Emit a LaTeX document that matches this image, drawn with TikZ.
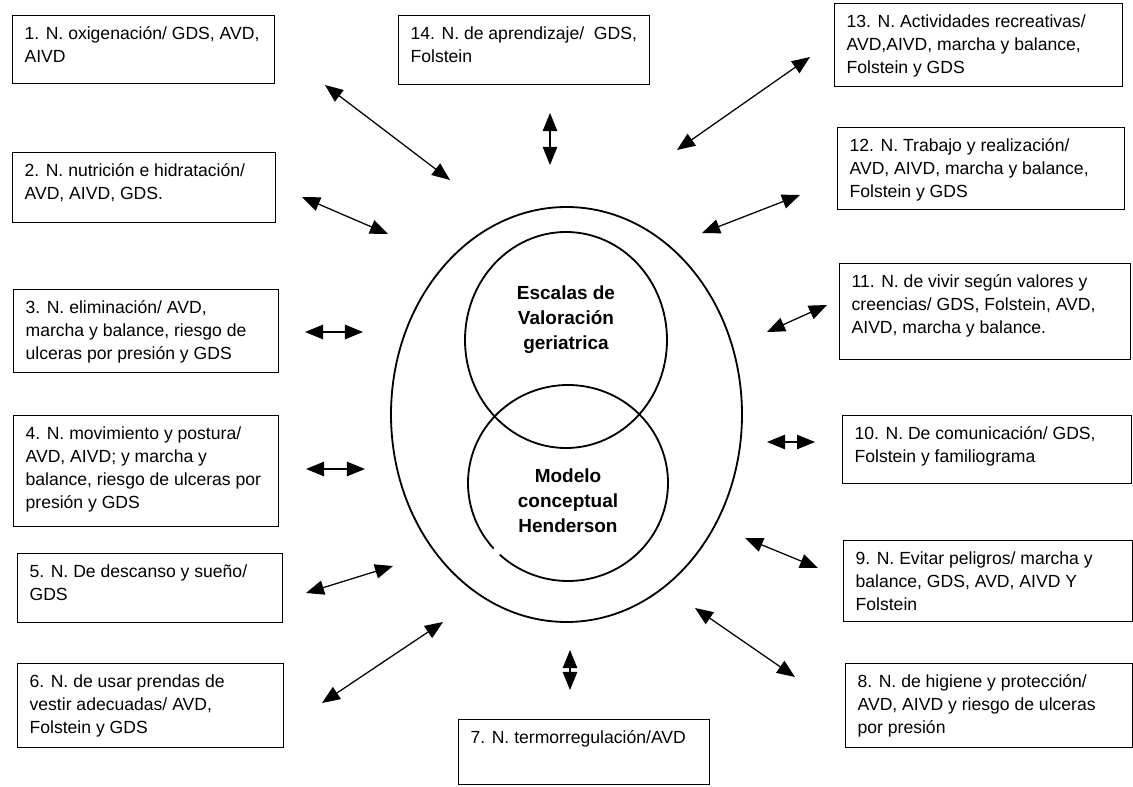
\documentclass[tikz,border=0pt]{standalone}
\usepackage{fontspec}
\setmainfont{Liberation Sans}
\usetikzlibrary{arrows.meta}
\newlength{\px}
\setlength{\px}{0.025cm}

\begin{document}
\begin{tikzpicture}[
x=0.025cm, y=-0.025cm,
need/.style 2 args={draw, line width=0.9pt, anchor=north west, inner xsep=12\px, inner ysep=11\px,
  font=\fontsize{12.5}{16.3}\selectfont,
  execute at begin node={\begin{minipage}[t][\dimexpr#2\px-22\px\relax][t]{\dimexpr#1\px-24\px\relax}\raggedright},
  execute at end node={\end{minipage}}},
link/.style={{Triangle[length=0.45cm, width=0.36cm]}-{Triangle[length=0.45cm, width=0.36cm]}, line width=0.9pt},
ring/.style={line width=1.3pt},
core/.style={font=\bfseries\fontsize{13.5}{17.8}\selectfont, align=center}
]
\useasboundingbox (0,0) rectangle (1133,787);

% needs, left column
\node[need={262}{68}] (n1) at (12,15) {1. N. oxigenación/ GDS, AVD,\\AIVD};
\node[need={263}{70}] (n2) at (12,152) {2. N. nutrición e hidratación/\\AVD, AIVD, GDS.};
\node[need={265}{83}] (n3) at (13,289) {3. N. eliminación/ AVD,\\marcha y balance, riesgo de\\ulceras por presión y GDS};
\node[need={265}{111}] (n4) at (13,415) {4. N. movimiento y postura/\\AVD, AIVD; y marcha y\\balance, riesgo de ulceras por\\presión y GDS};
\node[need={265}{69}] (n5) at (17,553) {5. N. De descanso y sueño/\\GDS};
\node[need={266}{84}] (n6) at (17,663) {6. N. de usar prendas de\\vestir adecuadas/ AVD,\\Folstein y GDS};

% top and bottom
\node[need={251}{69}] (n14) at (398,15) {14. N. de aprendizaje/\ \ GDS,\\Folstein};
\node[need={251}{65}] (n7) at (458,719) {7. N. termorregulación/AVD};

% needs, right column
\node[need={288}{83}] (n13) at (834,3) {13. N. Actividades recreativas/\\AVD,AIVD, marcha y balance,\\Folstein y GDS};
\node[need={287}{82}] (n12) at (837,127) {12. N. Trabajo y realización/\\AVD, AIVD, marcha y balance,\\Folstein y GDS};
\node[need={291}{96}] (n11) at (839,263) {11. N. de vivir según valores y\\creencias/ GDS, Folstein, AVD,\\AIVD, marcha y balance.};
\node[need={289}{68}] (n10) at (842,415) {10. N. De comunicación/ GDS,\\Folstein y familiograma};
\node[need={289}{81}] (n9) at (843,540) {9. N. Evitar peligros/ marcha y\\balance, GDS, AVD, AIVD Y\\Folstein};
\node[need={287}{84}] (n8) at (845,663) {8. N. de higiene y protección/\\AVD, AIVD y riesgo de ulceras\\por presión};

% centre
\draw[ring] (566.5,414.5) ellipse [x radius=175.5, y radius=207.5];
\draw[ring] (566,340) ellipse [x radius=101, y radius=108];
\draw[ring] (568,483) ++(138:100 and 98) arc [start angle=138, end angle=493, x radius=100, y radius=98];
\node[core] (scales) at (566,320) {Escalas de\\Valoración\\geriatrica};
\node[core] (model) at (568,501) {Modelo\\conceptual\\Henderson};

% arrows
\foreach \n/\ax/\ay/\bx/\by in {1/325/85/450/180, 2/302/197/388/234, 14/550/113/550/165,
  13/677/150/810/57, 12/702/233/800/195, 3/305/332/363/332, 11/767/332/827/305,
  4/306/469/365/469, 10/767/442/815/442, 5/306/593/393/566, 9/745/538/818/568,
  6/322/703/443/622, 7/570/650/570/690, 8/695/608/795/677}
{
  \coordinate (a\n) at (\ax,\ay);
  \coordinate (b\n) at (\bx,\by);
  \draw[link] (a\n) -- (b\n);
}
\end{tikzpicture}
\end{document}
